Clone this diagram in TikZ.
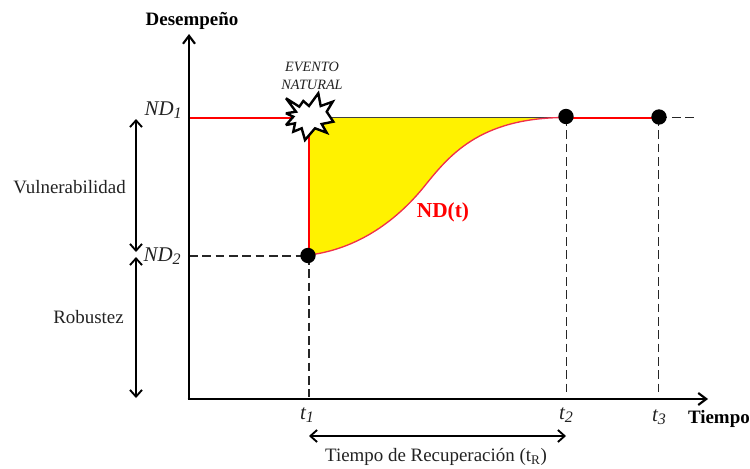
\documentclass[tikz,border=0pt]{standalone}
\usepackage{fontspec}
\setmainfont{Liberation Serif}
\usetikzlibrary{arrows.meta}
\definecolor{fillyellow}{HTML}{FFF200}
\definecolor{curvered}{HTML}{F0304A}
\definecolor{linered}{HTML}{FF0000}
\definecolor{txt}{HTML}{222222}
\tikzset{
 axisline/.style={line width=1.9pt,black,-{Straight Barb[length=6pt,width=9pt,line width=1.6pt]}},
 span/.style={line width=1.4pt,black,{Straight Barb[length=5pt,width=9pt,line width=1.4pt]}-{Straight Barb[length=5pt,width=9pt,line width=1.4pt]}},
 redline/.style={line width=1.5pt,linered},
 guide/.style={line width=0.8pt,black!85,dash pattern=on 6.5pt off 3.5pt},
 dot/.style={circle,fill=black,inner sep=0pt,minimum size=11.5pt},
 lab/.style={font=\fontsize{14.2pt}{16pt}\selectfont,text=txt,inner sep=0pt},
 sym/.style={font=\fontsize{15.7pt}{18pt}\selectfont\itshape,text=txt,inner sep=0pt},
 bold/.style={font=\fontsize{14.2pt}{16pt}\selectfont\bfseries,text=black,inner sep=0pt}
}
\newcommand{\lowsub}[1]{\raisebox{-0.3ex}{\fontsize{12pt}{14pt}\selectfont #1}}
\begin{document}
\begin{tikzpicture}[x=0.75pt,y=-0.75pt]
\useasboundingbox (0,0) rectangle (750,468);
\coordinate (O) at (189,399);
\coordinate (Ytop) at (189,34);
\coordinate (Xend) at (708,399);
\coordinate (L1) at (189,117.5);
\coordinate (L2) at (189,256);
\coordinate (T1) at (309,117.5);
\coordinate (B1) at (309,397);
\coordinate (B2) at (566.5,397);
\coordinate (B3) at (658.5,397);
\coordinate (End) at (698,117.5);
\coordinate (V1) at (136,119);
\coordinate (V2) at (136,252);
\coordinate (V3) at (136,257);
\coordinate (V4) at (136,398);
\coordinate (R1) at (309,436);
\coordinate (R2) at (566,436);
% yellow area
\fill[fillyellow] (T1) -- (566,117.5) .. controls (478,117.5) and (448,157) .. (423,188) .. controls (390,228) and (350,250) .. (309,255) -- cycle;
\draw[line width=0.8pt,black!75] (T1) -- (566,117.5);
% guides
\draw[guide] (L2) -- (309,256);
\draw[guide] (309,256) -- (B1);
\draw[guide] (566.5,117) -- (B2);
\draw[guide] (658.5,117) -- (B3);
\draw[guide] (658.5,117.5) -- (End);
% red
\draw[line width=1pt,curvered] (566,117.5) .. controls (478,117.5) and (448,157) .. (423,188) .. controls (390,228) and (350,250) .. (309,255);
\draw[redline] (L1) -- (292,117.5);
\draw[redline] (T1) -- (309,255);
\draw[redline] (566,117.5) -- (658.5,117.5);
% dots
\node[dot] (P1) at (308,255.5) {};
\node[dot] (P2) at (566,116.5) {};
\node[dot] (P3) at (659,117) {};
% axes
\draw[axisline] (O) -- (Ytop);
\draw[line width=1.9pt] (187.7,399) -- (O);
\draw[axisline] (O) -- (Xend);
% spans
\draw[span] (V1) -- (V2);
\draw[span] (V3) -- (V4);
\draw[span] (R1) -- (R2);
% star
\draw[line width=1.8pt,fill=white,line join=miter,miter limit=3] (286,98.3) -- (299.3,106.7) -- (303.3,101) -- (309,106) -- (318.3,93.3) -- (320.7,106) -- (332.7,101.7) -- (326.7,111.7) -- (333.3,121.7) -- (321.7,124) -- (326.7,132.7) -- (315,128.3) -- (305,140) -- (301.7,128.3) -- (293.3,131.7) -- (295,123.3) -- (286,125) -- (293.3,116.7) -- (286,113.3) -- (296,111.7) -- cycle;
% labels
\node[bold] (ylabel) at (192,21) {Desempeño};
\node[bold,anchor=east] (xlabel) at (750,418.5) {Tiempo};
\node[lab,align=center,font=\fontsize{10.7pt}{13.5pt}\selectfont\itshape] (ev) at (312,76) {EVENTO\\NATURAL};
\node[sym,anchor=east] (nd1) at (182,110.5) {ND\lowsub{1}};
\node[sym,anchor=east] (nd2) at (181,256) {ND\lowsub{2}};
\node[sym] (t1) at (307,415) {t\lowsub{1}};
\node[sym] (t2) at (566,415) {t\lowsub{2}};
\node[sym] (t3) at (659,417) {t\lowsub{3}};
\node[lab,anchor=east] (vul) at (126,187) {Vulnerabilidad};
\node[lab,anchor=east] (rob) at (124,317) {Robustez};
\node[lab] (tr) at (436,457) {Tiempo de Recuperación (t\textsubscript{R})};
\node[font=\fontsize{16pt}{18pt}\selectfont\bfseries,text=red,inner sep=0pt] (ndt) at (443,212) {ND(t)};
\end{tikzpicture}
\end{document}
